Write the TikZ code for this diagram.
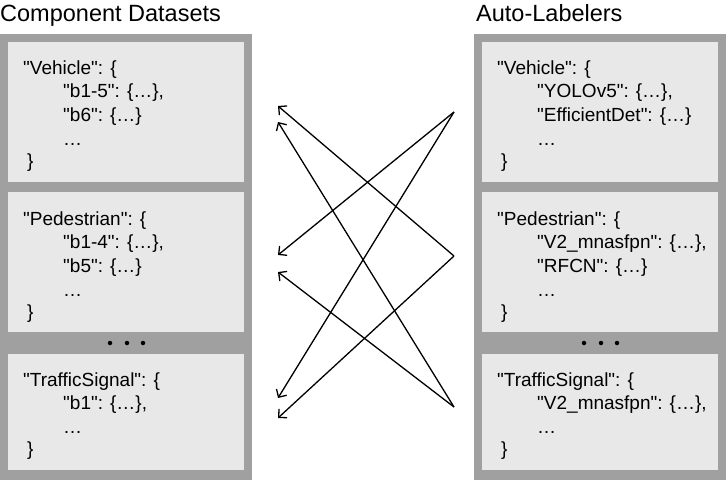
\documentclass[tikz,border=0pt]{standalone}
\usepackage{fontspec}
\setmainfont{Liberation Sans}[Ligatures=TeXOff]
\usetikzlibrary{arrows.meta}
\definecolor{frame}{HTML}{A0A0A0}
\definecolor{inner}{HTML}{E8E8E8}
\tikzset{
  panel/.style={fill=frame, draw=none},
  card/.style={fill=inner, draw=none},
  txt/.style={inner sep=0pt, anchor=base west, font=\fontsize{19}{23}\selectfont},
  ttl/.style={inner sep=0pt, anchor=base west, font=\fontsize{23.5}{27}\selectfont},
  dot/.style={circle, fill=black, inner sep=0pt, minimum size=4.5pt},
  link/.style={line width=1.3pt, -{Straight Barb[length=6pt,width=12pt]}},
}
\newcommand\jl[4]{\node[txt] (#1) at (#2,#3) {#4};}
\begin{document}
\begin{tikzpicture}[x=1pt,y=-1pt]
\useasboundingbox (0,0) rectangle (726,480);
% titles
\node[ttl] (t1) at (0,21) {Component Datasets};
\node[ttl] (t2) at (476,21) {Auto-Labelers};
% panels
\fill[panel] (0,34) rectangle (252,480);
\fill[panel] (474,34) rectangle (726,480);
% left cards
\fill[card] (8,42) rectangle (244,182);
\fill[card] (8,192) rectangle (244,332);
\fill[card] (8,354) rectangle (244,470);
% right cards
\fill[card] (482,42) rectangle (718,182);
\fill[card] (482,192) rectangle (718,332);
\fill[card] (482,354) rectangle (718,470);
% dots
\node[dot] (d1) at (110,343) {};
\node[dot] (d2) at (127,343) {};
\node[dot] (d3) at (143,343) {};
\node[dot] (d4) at (584,343) {};
\node[dot] (d5) at (601,343) {};
\node[dot] (d6) at (617,343) {};
% left text
\jl{a1}{23}{74}{"Vehicle": \{}
\jl{a2}{63}{97}{"b1-5": \{…\},}
\jl{a3}{63}{121}{"b6": \{…\}}
\jl{a4}{63}{145}{…}
\jl{a5}{27}{167}{\}}
\jl{b1}{23}{225}{"Pedestrian": \{}
\jl{b2}{63}{248}{"b1-4": \{…\},}
\jl{b3}{63}{272}{"b5": \{…\}}
\jl{b4}{63}{296}{…}
\jl{b5}{27}{318}{\}}
\jl{c1}{23}{386}{"TrafficSignal": \{}
\jl{c2}{63}{409}{"b1": \{…\},}
\jl{c3}{63}{433}{…}
\jl{c4}{27}{455}{\}}
% right text
\jl{e1}{497}{74}{"Vehicle": \{}
\jl{e2}{537}{97}{"YOLOv5": \{…\},}
\jl{e3}{537}{121}{"EfficientDet": \{…\}}
\jl{e4}{537}{145}{…}
\jl{e5}{501}{167}{\}}
\jl{f1}{497}{225}{"Pedestrian": \{}
\jl{f2}{537}{248}{"V2\_mnasfpn": \{…\},}
\jl{f3}{537}{272}{"RFCN": \{…\}}
\jl{f4}{537}{296}{…}
\jl{f5}{501}{318}{\}}
\jl{g1}{497}{386}{"TrafficSignal": \{}
\jl{g2}{537}{409}{"V2\_mnasfpn": \{…\},}
\jl{g3}{537}{433}{…}
\jl{g4}{501}{455}{\}}
% connector endpoints
\coordinate (r1) at (454,112);
\coordinate (r2) at (454,256);
\coordinate (r3) at (454,407);
\coordinate (l1) at (278,106);
\coordinate (l2) at (278,122);
\coordinate (l3) at (278,255);
\coordinate (l4) at (278,272);
\coordinate (l5) at (278,398);
\coordinate (l6) at (278,418);
\draw[link] (r1) -- (l3);
\draw[link] (r1) -- (l5);
\draw[link] (r2) -- (l1);
\draw[link] (r2) -- (l6);
\draw[link] (r3) -- (l2);
\draw[link] (r3) -- (l4);
\end{tikzpicture}
\end{document}
